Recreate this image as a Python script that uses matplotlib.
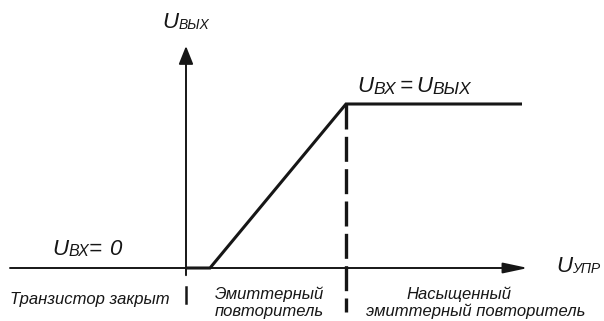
import matplotlib
matplotlib.use("Agg")
import matplotlib.pyplot as plt
from matplotlib.patches import FancyArrowPatch
from matplotlib.transforms import IdentityTransform

# Transfer characteristic of the emitter follower: U_упр -> U_вых
u_upr = [0.0, 0.6, 4.0, 8.4]
u_out = [0.0, 0.0, 4.1, 4.1]

# Boundaries between operating regions along U_упр
cutoff_edge = 0.0
saturation_edge = 4.0

# Region captions (lines of each caption)
region_cutoff = ["Транзистор закрыт"]
region_follower = ["Эмиттерный", "повторитель"]
region_saturated = ["Насыщенный", "эмиттерный повторитель"]

W, H = 604, 321
INK = "#161616"
FONT = "Liberation Sans"

fig = plt.figure(figsize=(W / 100, H / 100), dpi=100)
ax = fig.add_axes([0, 0, 1, 1])
ax.set_xlim(-4.65, 10.45)
ax.set_ylim(-1.325, 6.7)
ax.axis("off")

# coordinate axes with filled arrow heads
ax.add_patch(FancyArrowPatch((-4.4, 0.0), (8.55, 0.0),
                             arrowstyle="-|>,head_length=15,head_width=3.2",
                             mutation_scale=1, lw=1.4, color=INK,
                             shrinkA=0, shrinkB=0))
ax.add_patch(FancyArrowPatch((0.0, -0.18), (0.0, 5.55),
                             arrowstyle="-|>,head_length=11,head_width=4.4",
                             mutation_scale=1, lw=1.4, color=INK,
                             shrinkA=0, shrinkB=0))

# characteristic curve
ax.plot(u_upr, u_out, color=INK, lw=2.2, solid_joinstyle="miter",
        solid_capstyle="butt")

# region separators
ax.plot([cutoff_edge, cutoff_edge], [-0.48, -0.88], color=INK, lw=1.8)
ax.plot([saturation_edge, saturation_edge], [max(u_out), -1.1], color=INK,
        lw=2.4, dashes=(7.5, 2.2))


def label(x, baseline, parts):
    """Write text pieces left to right on a common baseline (pixels, y down)."""
    renderer = fig.canvas.get_renderer()
    cur = x
    for text, size, dx, dy in parts:
        cur += dx
        t = fig.text(cur, H - (baseline + dy), text, transform=IdentityTransform(),
                     fontsize=size, family=FONT, style="italic", color=INK,
                     ha="left", va="baseline")
        cur += t.get_window_extent(renderer).width


label(162, 28, [("U", 16, 0, 0), ("ВЫХ", 10, 0, 1)])
label(357, 92, [("U", 16, 0, 0), ("ВХ", 12.5, 0, 1.5), ("=", 16, 4, 0),
                ("U", 16, 4, 0), ("ВЫХ", 12.5, 0, 1.5)])
label(52, 255, [("U", 16, 0, 0), ("ВХ", 11.5, 0, 1.5), ("=", 16, 0, 0),
                ("0", 16, 7, 0)])
label(556, 272, [("U", 16, 0, 0), ("УПР", 10, 0, 1)])

cap = dict(fontsize=12, family=FONT, style="italic", color=INK,
           transform=IdentityTransform(), va="baseline")
fig.text(10, H - 304, region_cutoff[0], ha="left", **cap)
fig.text(215, H - 299, region_follower[0], ha="left", **cap)
fig.text(215, H - 316, region_follower[1], ha="left", **cap)
fig.text(459, H - 299, region_saturated[0], ha="center", **cap)
fig.text(476, H - 316, region_saturated[1], ha="center", **cap)

fig.savefig("out.png", dpi=100, facecolor="white")
